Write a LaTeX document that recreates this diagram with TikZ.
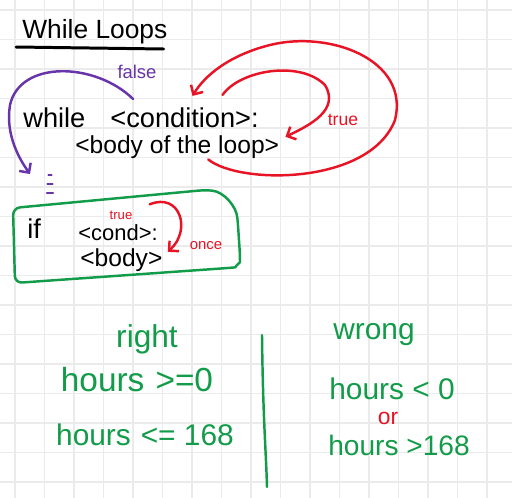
\documentclass[tikz,border=0pt]{standalone}
\usepackage{fontspec}
\setmainfont{Liberation Sans}
\usetikzlibrary{arrows.meta}
\definecolor{inkgreen}{RGB}{18,156,74}
\definecolor{inkred}{RGB}{232,20,38}
\definecolor{inkpurple}{RGB}{104,52,170}
\newcommand{\fsz}[1]{\fontsize{#1}{#1}\selectfont}

\begin{document}
\begin{tikzpicture}[
  x=0.02cm, y=-0.02cm,
  every node/.style={inner sep=0pt, font=\fsz{15}},
  gridline/.style={draw=black!8, line width=0.7pt},
  code/.style={anchor=base west, font=\fsz{15.5}},
  redtext/.style={text=inkred, font=\fsz{9}},
  greentext/.style={text=inkgreen, font=\fsz{17}},
  pen/.style={line width=1.4pt, line cap=round, line join=round},
  >={Straight Barb[length=4pt,width=8pt]}
]
  \useasboundingbox (0,0) rectangle (512,498);
  \fill[white] (0,0) rectangle (512,498);
  \foreach \gx in {0,...,16}
    \draw[gridline] ({15+29.5*\gx},0) -- ({15+29.5*\gx},498);
  \foreach \gy in {0,...,16}
    \draw[gridline] (0,{10+29.5*\gy}) -- (512,{10+29.5*\gy});

  \node[anchor=base west] (title) at (22,38) {While Loops};
  \draw[pen, line width=1.7pt] ([shift={(-6,9)}]title.base west) -- ([shift={(-4,11)}]title.base east);

  \node[code] (while) at (23,127) {while};
  \node[code] (cond) at (110,127) {<condition>:};
  \node[code, font=\fsz{14}] (body) at (75,153) {<body of the loop>};
  \node[text=inkpurple, font=\fsz{10.5}] (false) at (137,72) {false};
  \node[redtext, font=\fsz{10}] (true) at (343,120) {true};
  \coordinate (dots) at (50,184);
  \foreach \dy/\dw in {-9/1.5, 0/2.5, 9/3}
    \draw[pen, inkpurple, line width=1.2pt] ([shift={(-\dw,\dy)}]dots) -- ([shift={(\dw,\dy)}]dots);

  \draw[pen, inkpurple, ->] ([shift={(23,-8)}]cond.north west)
    .. controls (95,62) and (20,60) .. (10,105)
    .. controls (5,135) and (20,160) .. ([shift={(-20,-10)}]dots);
  \draw[pen, inkred, ->] ([shift={(31,1)}]body.south)
    .. controls (240,185) and (370,185) .. (395,120)
    .. controls (410,60) and (330,30) .. (270,45)
    .. controls (230,55) and (205,75) .. ([shift={(8,-11)}]cond.north);
  \draw[pen, inkred, ->] ([shift={(38,-12)}]cond.north)
    .. controls (240,70) and (300,60) .. (325,85)
    .. controls (340,110) and (310,125) .. ([shift={(6,2)}]body.north east);

  \node[code] (if) at (27,238) {if};
  \node[code, font=\fsz{12.5}] (ifcond) at (78,240) {<cond>:};
  \node[code, font=\fsz{14}] (ifbody) at (80,266) {<body>};
  \node[redtext, font=\fsz{7.5}] (iftrue) at (121,215) {true};
  \node[redtext, font=\fsz{8.5}] (once) at (206,246) {once};
  \draw[pen, inkgreen, rounded corners=4pt] (13,208) -- (205,190)
    to[out=-5,in=95] (238,225) -- (240,255) to[out=-90,in=5] (228,268) -- (15,283) -- cycle;
  \draw[pen, inkred, ->] ([shift={(17,-6)}]iftrue.north east)
    .. controls (180,192) and (192,230) .. ([shift={(5,4)}]ifbody.north east);

  \node[greentext, font=\fsz{18}] (right) at (147,339) {right};
  \node[greentext, font=\fsz{19}] (rightlo) at (137,380) {hours\,\,>=0};
  \node[greentext] (righthi) at (145,435) {hours\,\,<= 168};
  \node[greentext] (wrong) at (374,335) {wrong};
  \node[greentext] (wronglo) at (392,389) {hours < 0};
  \node[text=inkred, font=\fsz{13}] (or) at (388,418) {or};
  \node[greentext, font=\fsz{16}] (wronghi) at (399,445) {hours >168};
  \draw[pen, inkgreen] (262,335) .. controls (263,420) and (266,450) .. (267,487);
\end{tikzpicture}
\end{document}
